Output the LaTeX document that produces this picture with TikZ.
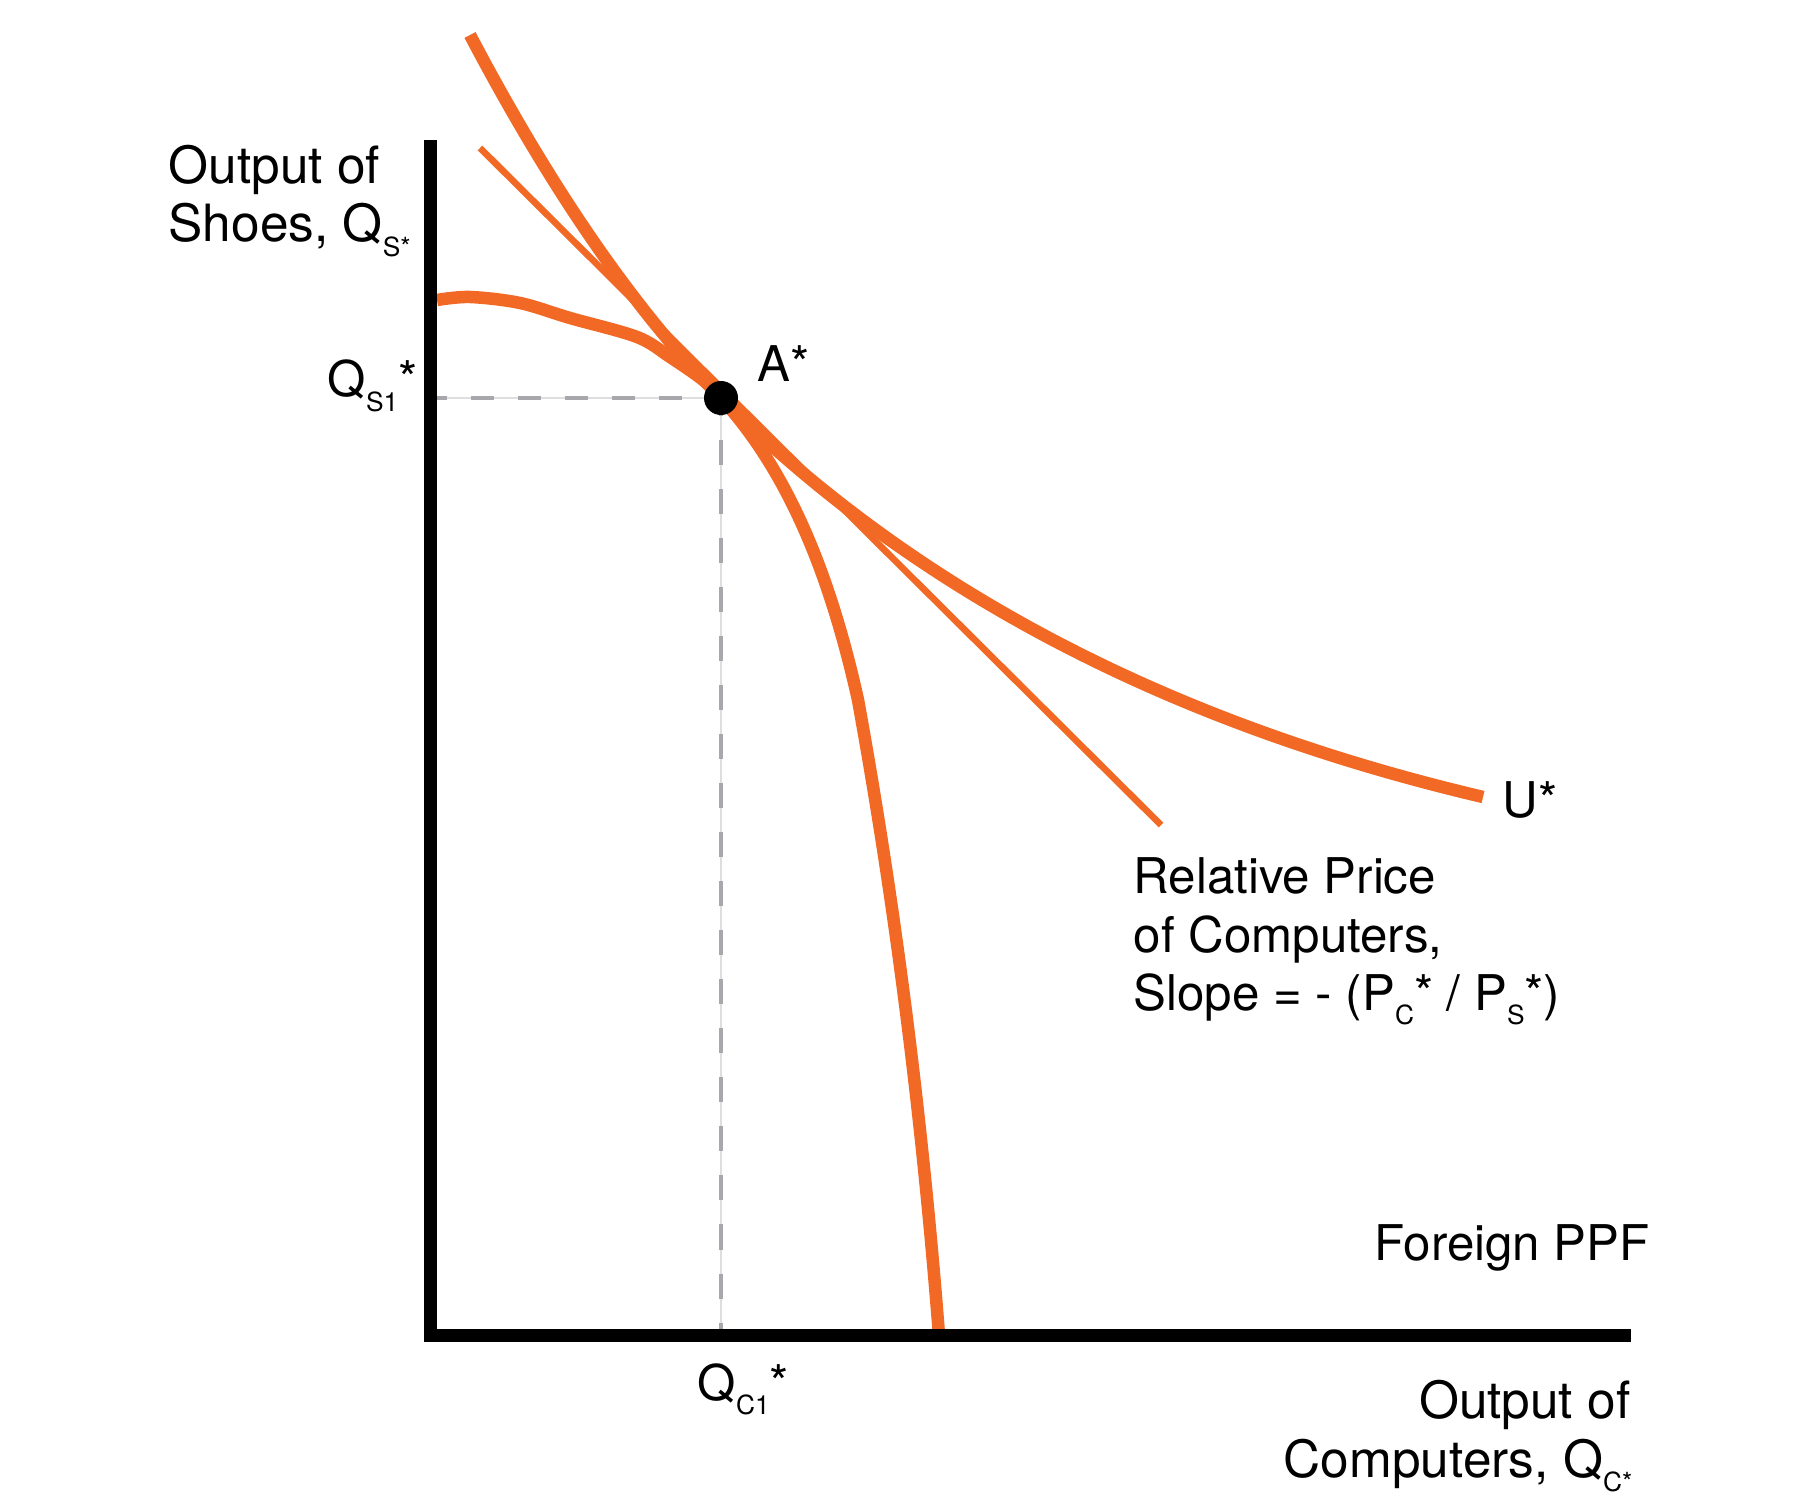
\documentclass[tikz,border=0pt]{standalone}
\usepackage{fontspec}
\setmainfont{TeX Gyre Heros}
\definecolor{ora}{RGB}{242,104,37}
\definecolor{dgrey}{RGB}{168,168,172}
\definecolor{lgrey}{RGB}{222,222,222}
\newcommand\sbx[1]{\raisebox{-4pt}{\fontsize{7.5}{7.5}\selectfont #1}}
\begin{document}
\begin{tikzpicture}[x=0.01cm,y=-0.01cm,
  lbl/.style={inner sep=0pt, font=\fontsize{14}{16.8}\selectfont},
  axlbl/.style={inner sep=0pt, font=\fontsize{14.6}{17}\selectfont},
  axisline/.style={line width=0.13cm, black},
  curve/.style={line width=0.125cm, ora},
  pline/.style={line width=0.066cm, ora},
  guide/.style={line width=0.015cm, lgrey},
  guidedash/.style={line width=0.04cm, dgrey},
  dot/.style={circle, fill=black, inner sep=0pt, minimum size=0.34cm}
]
\useasboundingbox (0,0) rectangle (1801,1501);
\coordinate (A) at (721,398);
\coordinate (yh) at (437,398);
\coordinate (xv) at (721,1329);

% guides
\draw[guide] (yh) -- (A);
\draw[guide] (A) -- (xv);
\draw[guidedash, dash pattern=on 0.23cm off 0.24cm, dash phase=0.13cm] (yh) -- (A);
\draw[guidedash, dash pattern=on 0.25cm off 0.24cm, dash phase=0.07cm] (A) -- (xv);

% PPF
\draw[curve] plot[smooth, tension=0.55] coordinates {(437,300) (470,297) (520,303) (570,318) (637,337) (670,357) (703,380) (A)}
  .. controls (785,468) and (828.3,566.5) .. (858,700)
  .. controls (895.1,904.4) and (922,1116.1) .. (939,1335);

% indifference curve U*
\draw[curve] (470,35) .. controls (552.2,191.2) and (635.9,311.9) .. (A)
  .. controls (913.5,589.5) and (1167.5,722.9) .. (1483,797);

% relative price line
\coordinate (p1) at (480,148);
\coordinate (p2) at (1161,825);
\draw[pline] (p1) -- (p2);

% axes
\draw[axisline] (430,140) -- (430,1342);
\draw[axisline] (437,1335.5) -- (1631,1335.5);

% point A*
\node[dot] (Adot) at (A) {};

% labels
\node[axlbl, anchor=base west] (yl1) at (168,184) {Output of};
\node[axlbl, anchor=base west] (yl2) at (168,242) {Shoes, Q\sbx{S*}};
\node[lbl, anchor=base west] (qs) at (327,397) {Q\sbx{S1}*};
\node[lbl, anchor=base west] (al) at (757,382) {A*};
\node[lbl, anchor=base west] (ul) at (1502,817) {U*};
\node[lbl, anchor=base west] (r1) at (1133,893) {Relative Price};
\node[lbl, anchor=base west] (r2) at (1133,952) {of Computers,};
\node[lbl, anchor=base west] (r3) at (1133,1010) {Slope = - (P\sbx{C}* / P\sbx{S}*)};
\node[lbl, anchor=base west] (ppf) at (1374,1260) {Foreign PPF};
\node[lbl, anchor=base west] (qc) at (697,1400) {Q\sbx{C1}*};
\node[axlbl, anchor=base east] (xl1) at (1631,1418) {Output of};
\node[axlbl, anchor=base east] (xl2) at (1633,1477) {Computers, Q\sbx{C*}};
\end{tikzpicture}
\end{document}
